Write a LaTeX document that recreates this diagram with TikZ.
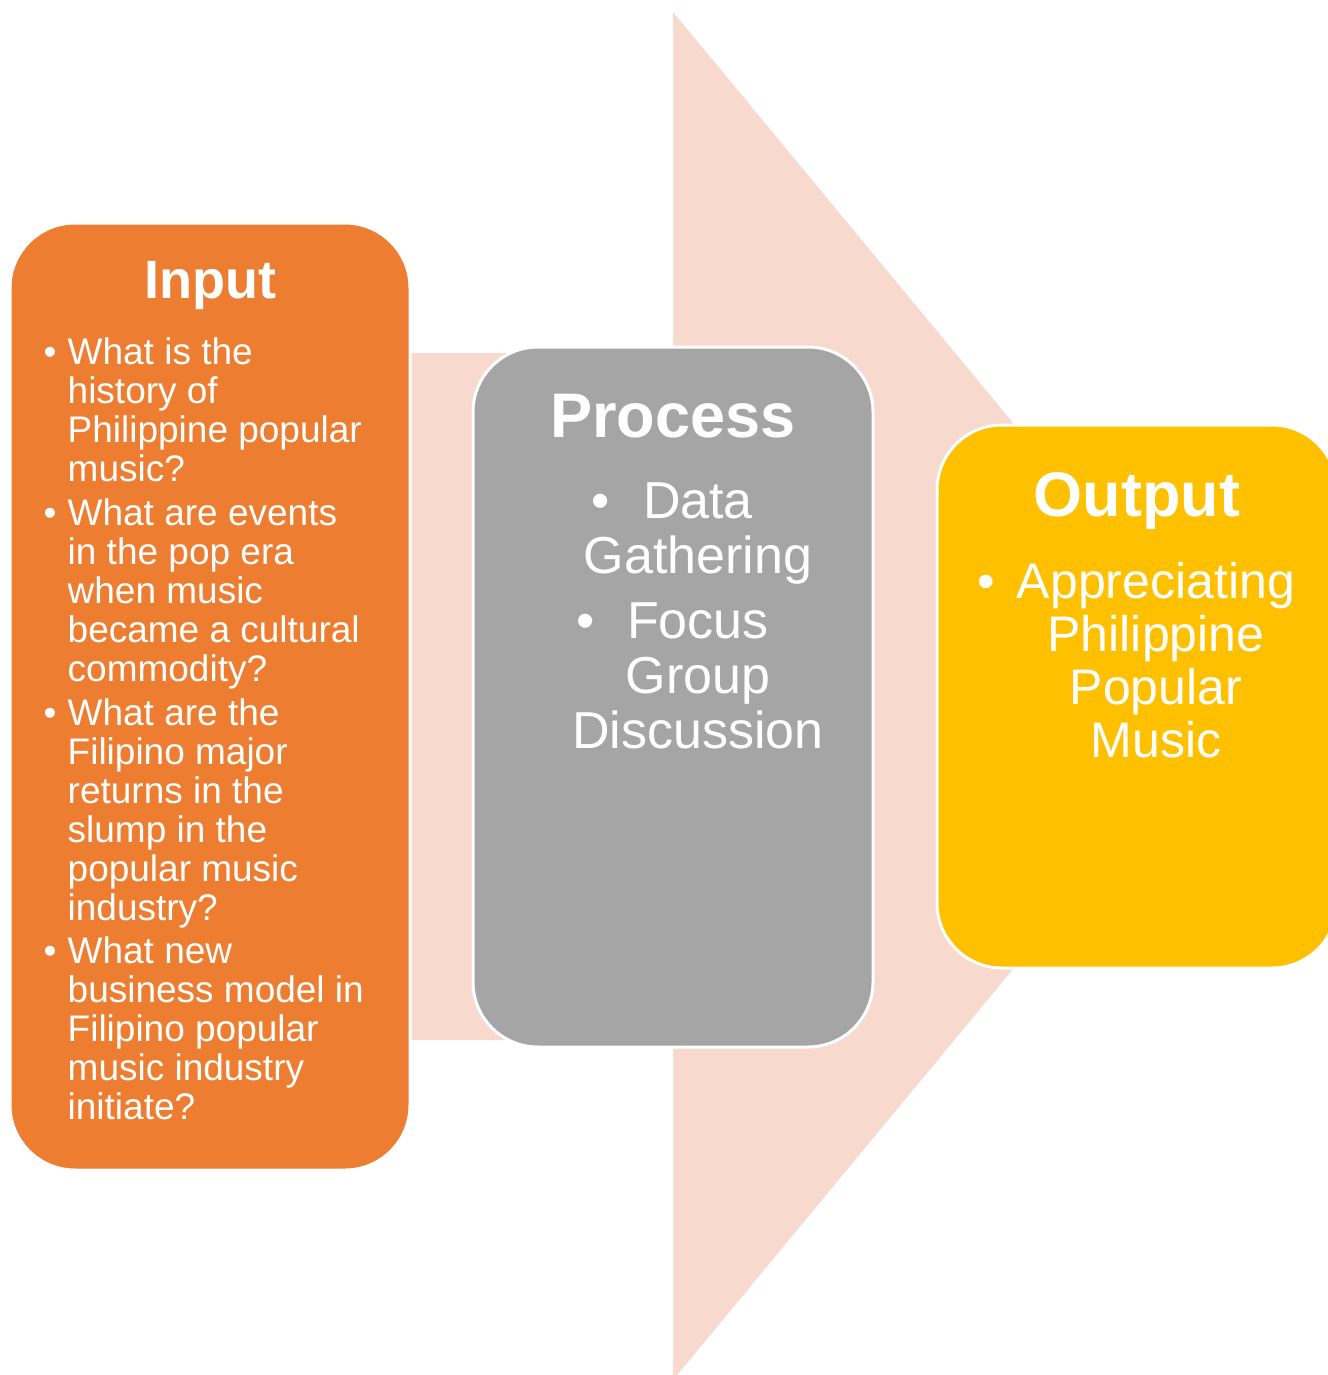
\documentclass[tikz,border=0pt]{standalone}
\usepackage{fontspec}
\setmainfont{Liberation Sans}
\usetikzlibrary{positioning}
\definecolor{inorange}{HTML}{ED7D31}
\definecolor{procgray}{HTML}{A5A5A5}
\definecolor{outyellow}{HTML}{FFC000}
\definecolor{arrowpink}{HTML}{F8D9CE}
\tikzstyle{box} = [rectangle, rounded corners=65pt, draw=white, line width=3pt, minimum width=400pt, inner sep=0pt]
\tikzstyle{title} = [text=white, inner sep=0pt, font=\fontsize{63}{70}\selectfont\bfseries]
\tikzstyle{items} = [text=white, inner sep=0pt, align=center, font=\fontsize{52}{55}\selectfont]
\newcommand{\qbul}{\makebox[24pt][l]{\textbullet}}
\newcommand{\qind}{\makebox[24pt]{}}

\begin{document}
\begin{tikzpicture}[x=1pt, y=-1pt]
        \useasboundingbox (0,0) rectangle (1327,1375);
        % big arrow behind the boxes
        \fill[arrowpink] (400,353) -- (673,353) -- (673,12) -- (1239,696)
            -- (673,1380) -- (673,1040) -- (400,1040) -- cycle;
        \node[box, fill=inorange, minimum height=947pt] (inbox) at (210,696.5) {};
        \node[box, fill=procgray, minimum height=700pt] (procbox) at (673,697) {};
        \node[box, fill=outyellow, minimum height=543pt] (outbox) at (1137,696.5) {};
        \node[title, font=\fontsize{54}{60}\selectfont\bfseries, below=40pt of inbox.north] (intitle) {Input};
        \node[items, align=left, font=\fontsize{37}{39}\selectfont, below right=116pt and 35pt of inbox.north west] (inq) {%
            \qbul What is the\\\qind history of\\\qind Philippine popular\\\qind music?\\[5pt]
            \qbul What are events\\\qind in the pop era\\\qind when music\\\qind became a cultural\\\qind commodity?\\[5pt]
            \qbul What are the\\\qind Filipino major\\\qind returns in the\\\qind slump in the\\\qind popular music\\\qind industry?\\[4pt]
            \qbul What new\\\qind business model in\\\qind Filipino popular\\\qind music industry\\\qind initiate?};
        \node[title, below=48pt of procbox.north] (proctitle) {Process};
        \node[items, below=137pt of procbox.north, xshift=25pt] (procitems) {%
            \llap{\textbullet\hspace{33pt}}Data\\Gathering\\[10pt]
            \llap{\textbullet\hspace{33pt}}Focus\\Group\\Discussion};
        \node[title, below=49pt of outbox.north] (outtitle) {Output};
        \node[items, font=\fontsize{50}{53}\selectfont, below=139pt of outbox.north, xshift=19pt] (outitems) {%
            \llap{\textbullet\hspace{22pt}}Appreciating\\Philippine\\Popular\\Music};
    \end{tikzpicture}
\end{document}
